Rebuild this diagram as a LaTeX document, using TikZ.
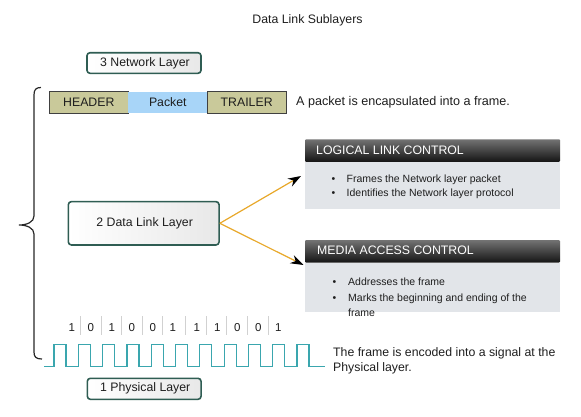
\documentclass[tikz,border=0pt]{standalone}
\usepackage{fontspec}
\setmainfont{Liberation Sans}
\usetikzlibrary{arrows.meta}
\definecolor{boxgreen}{HTML}{2F5D53}
\definecolor{khaki}{HTML}{C9C99A}
\definecolor{pktblue}{HTML}{A8D5F8}
\definecolor{bodygray}{HTML}{E2E5E9}
\definecolor{wavecol}{HTML}{3AA6AE}
\definecolor{arrorange}{HTML}{E8A82A}
\definecolor{txt}{HTML}{1E1E1E}
\tikzset{
  fs/.style={font=\fontsize{#1}{15}\selectfont},
  layerbox/.style={draw=boxgreen, line width=1.6pt, rounded corners=3pt,
    left color=white, right color=black!9, text=txt, fs=12.3, inner sep=0pt},
  framebox/.style={draw=black!75, line width=0.8pt, fill=khaki, text=txt, fs=12.3,
    minimum height=21.6, inner sep=0pt},
  pktbox/.style={fill=pktblue, text=txt, fs=12.3, minimum height=21.6, inner sep=0pt},
  darkhead/.style={top color=black!55, bottom color=black!92, text=white, fs=12.3,
    minimum width=255, minimum height=22.5, inner sep=0pt, rounded corners=1pt},
  headtext/.style={anchor=west, text=white, fs=12.3, inner sep=0pt},
  sublbody/.style={fill=bodygray, minimum width=255, inner sep=0pt},
  plain/.style={text=txt, fs=12.3, inner sep=0pt},
  bullet/.style={anchor=west, text=txt, fs=10.5, inner sep=0pt},
  bitlabel/.style={text=txt, fs=11.5, inner sep=0pt},
  sep/.style={draw=black!18, line width=0.8pt},
  wave/.style={draw=wavecol, line width=1.2pt},
  flow/.style={draw=arrorange, line width=1.2pt, -{Stealth[black,length=13pt,width=9pt]}},
}
\begin{document}
\begin{tikzpicture}[x=1pt,y=-1pt]
\useasboundingbox (0,0) rectangle (581,416);
% title
\node[plain] (title) at (307.5,20) {Data Link Sublayers};
% network layer
\node[layerbox, minimum width=114, minimum height=20.6] (net) at (144,63) {\hspace{2pt}3 Network Layer};
% frame
\node[framebox, minimum width=79] (hdr) at (88.8,102.5) {HEADER};
\node[pktbox, minimum width=79] (pkt) at (167.8,102.5) {Packet};
\node[framebox, minimum width=78.7] (trl) at (246.7,102.5) {TRAILER};
\node[plain, anchor=west, fs=12.6] (enc) at (296,102) {A packet is encapsulated into a frame.};
% brace
\draw[line width=1.2pt, black!85] (41,87.5) .. controls (36,87.5) and (34,89.5) .. (34,95)
  -- (34,216) .. controls (34,222) and (27,225) .. (19,225)
  .. controls (27,225) and (34,228) .. (34,234)
  -- (34,352) .. controls (34,357) and (36,359) .. (42,359);
% data link layer
\node[layerbox, minimum width=150.7, minimum height=43.3] (dl) at (143.7,223.3) {\hspace{2pt}2 Data Link Layer};
% LLC
\node[darkhead] (llch) at (432.5,150.5) {};
\node[headtext] (llct) at (316,150) {LOGICAL LINK CONTROL};
\node[sublbody, minimum height=46.6, anchor=north] (llcb) at (432.5,161.7) {};
\node[bullet] (llc1) at (331.5,180) {\makebox[15pt][l]{\textbullet}Frames the Network layer packet};
\node[bullet] (llc2) at (331.5,194) {\makebox[15pt][l]{\textbullet}Identifies the Network layer protocol};
% MAC
\node[darkhead] (mach) at (432.5,251.3) {};
\node[headtext] (mact) at (317,250.5) {MEDIA ACCESS CONTROL};
\node[sublbody, minimum height=49, anchor=north] (macb) at (432.5,262.7) {};
\node[bullet] (mac1) at (332.5,281.7) {\makebox[15.5pt][l]{\textbullet}Addresses the frame};
\node[bullet] (mac2) at (332.5,298.3) {\makebox[15.5pt][l]{\textbullet}Marks the beginning and ending of the};
\node[bullet] (mac3) at (348,312.7) {frame};
% arrows
\coordinate (llctip) at (301,176);
\coordinate (mactip) at (303.5,265);
\draw[flow] (dl.east) -- (llctip);
\draw[flow] (dl.east) -- (mactip);
% bits
\foreach \x/\b [count=\i] in {71.7/1,90.7/0,111.7/1,131.7/0,152.7/0,172.7/1,196.7/1,217.3/1,237.3/0,258.3/0,278.3/1}
  \node[bitlabel] (bit\i) at (\x,328) {\b};
\foreach \x in {80.7,101.7,121.7,142.7,162.7,185,206.7,226.7,247.3,268.3}
  \draw[sep] (\x,316) -- (\x,335);
% wave
\draw[wave] (44,366.5) \foreach \i in {0,...,10} { -- ({54+24.3*\i},366.5) -- ++(0,-22) -- ++(12,0) -- ++(0,22) } -- (325,366.5);
\node[plain, anchor=west] (sig1) at (333,353.5) {The frame is encoded into a signal at the};
\node[plain, anchor=west] (sig2) at (333,368.5) {Physical layer.};
% physical layer
\node[layerbox, minimum width=113.7, minimum height=21] (phy) at (144.2,388.8) {\hspace{2pt}1 Physical Layer};
\end{tikzpicture}
\end{document}
